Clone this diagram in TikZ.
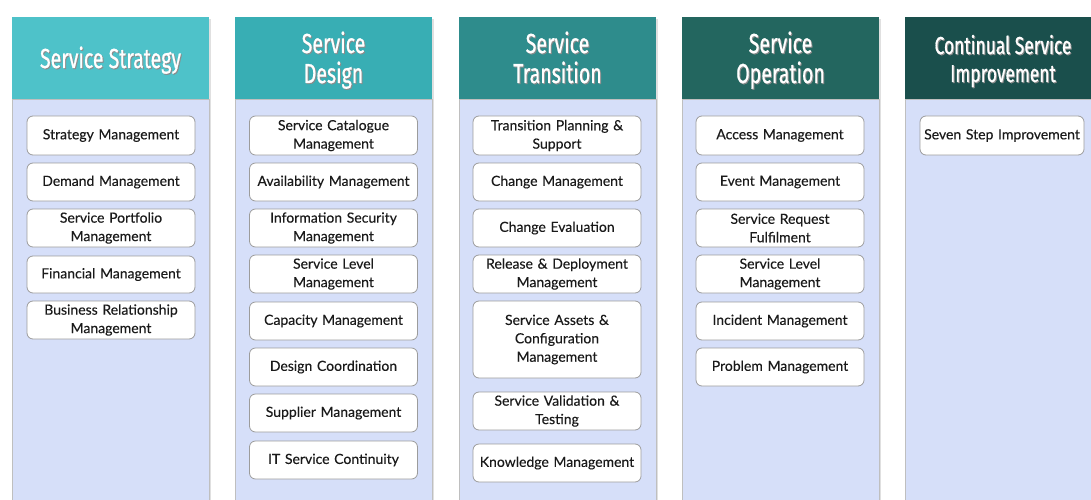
\documentclass[tikz,border=0pt]{standalone}
\usepackage{fontspec}
\setmainfont[FakeBold=0.25]{Lato}
\newfontfamily\hfont[FakeBold=0.9]{Fira Sans}
\definecolor{hA}{HTML}{4EC2C9}
\definecolor{hB}{HTML}{38AEB4}
\definecolor{hC}{HTML}{2E8C8C}
\definecolor{hD}{HTML}{23665F}
\definecolor{hE}{HTML}{1A4F4C}
\definecolor{bodyc}{HTML}{D6DFF9}
\definecolor{boxline}{HTML}{9C9C9C}
\definecolor{txt}{HTML}{1A1A1A}
\newcommand\hd[1]{\scalebox{0.71}[1]{#1}}
\tikzset{
  colbody/.style={fill=bodyc, draw=black!25, line width=0.8pt},
  item/.style={draw=boxline, fill=white, rounded corners=6pt, line width=0.8pt,
     minimum width=168pt, text width=166pt, align=center, inner sep=1pt,
     font=\fontsize{14}{18.4}\selectfont, text=txt},
  hbase/.style={anchor=base, inner sep=0pt, font=\hfont\fontsize{27.5}{31}\selectfont},
  htext/.style={hbase, text=white},
  hshadow/.style={hbase, text=black!45},
  hsmall/.style={font=\hfont\fontsize{24.5}{29}\selectfont},
}
\begin{document}
\begin{tikzpicture}[x=1pt,y=-1pt]
\useasboundingbox (0,0) rectangle (1091,500);
\fill[white] (0,0) rectangle (1091,500);
\begin{scope}
\clip (0,0) rectangle (1091,500);
\foreach \x/\c in {12/hA,235/hB,459/hC,682/hD,905/hE}{
  \fill[black!12] (\x+2,19) rectangle (\x+199,510);
  \draw[colbody] (\x,99) rectangle (\x+197,510);
  \fill[\c] (\x,17) rectangle (\x+197,99);
}
\end{scope}
% headers
\node[hshadow] at (111.5,69) {\hd{Service Strategy}};
\node[htext] (h1) at (110.5,68) {\hd{Service Strategy}};
\node[hshadow] at (334.5,54) {\hd{Service}};
\node[htext] (h2a) at (333.5,53) {\hd{Service}};
\node[hshadow] at (334.5,84) {\hd{Design}};
\node[htext] (h2b) at (333.5,83) {\hd{Design}};
\node[hshadow] at (558.5,54) {\hd{Service}};
\node[htext] (h3a) at (557.5,53) {\hd{Service}};
\node[hshadow] at (558.5,84) {\hd{Transition}};
\node[htext] (h3b) at (557.5,83) {\hd{Transition}};
\node[hshadow] at (781.5,54) {\hd{Service}};
\node[htext] (h4a) at (780.5,53) {\hd{Service}};
\node[hshadow] at (781.5,84) {\hd{Operation}};
\node[htext] (h4b) at (780.5,83) {\hd{Operation}};
\node[hshadow, hsmall] at (1004,55) {\hd{Continual Service}};
\node[htext, hsmall] (h5a) at (1003,54) {\hd{Continual Service}};
\node[hshadow, hsmall] at (1004,83) {\hd{Improvement}};
\node[htext, hsmall] (h5b) at (1003,82) {\hd{Improvement}};
% column 1
\node[item, minimum height=39pt] (a1) at (111,135.5) {Strategy Management};
\node[item, minimum height=38pt] (a2) at (111,182) {Demand Management};
\node[item, minimum height=38pt] (a3) at (111,228) {Service Portfolio\\Management};
\node[item, minimum height=37pt] (a4) at (111,274.5) {Financial Management};
\node[item, minimum height=38pt] (a5) at (111,320) {Business Relationship\\Management};
% column 2
\node[item, minimum height=39pt] (b1) at (333.5,135.5) {Service Catalogue\\Management};
\node[item, minimum height=38pt] (b2) at (333.5,182) {Availability Management};
\node[item, minimum height=38pt] (b3) at (333.5,228) {Information Security\\Management};
\node[item, minimum height=38pt] (b4) at (333.5,274) {Service Level\\Management};
\node[item, minimum height=38pt] (b5) at (333.5,321) {Capacity Management};
\node[item, minimum height=38pt] (b6) at (333.5,367) {Design Coordination};
\node[item, minimum height=38pt] (b7) at (333.5,413) {Supplier Management};
\node[item, minimum height=38pt] (b8) at (333.5,460) {IT Service Continuity};
% column 3
\node[item, minimum height=39pt] (c1) at (557,135.5) {Transition Planning \&\\Support};
\node[item, minimum height=38pt] (c2) at (557,182) {Change Management};
\node[item, minimum height=38pt] (c3) at (557,228) {Change Evaluation};
\node[item, minimum height=38pt] (c4) at (557,274) {Release \& Deployment\\Management};
\node[item, minimum height=77pt] (c5) at (557,339.5) {Service Assets \&\\Configuration\\Management};
\node[item, minimum height=38pt] (c6) at (557,411) {Service Validation \&\\Testing};
\node[item, minimum height=38pt] (c7) at (557,463) {Knowledge Management};
% column 4
\node[item, minimum height=39pt] (d1) at (780,135.5) {Access Management};
\node[item, minimum height=38pt] (d2) at (780,182) {Event Management};
\node[item, minimum height=38pt] (d3) at (780,228) {Service Request\\Fulfilment};
\node[item, minimum height=38pt] (d4) at (780,274) {Service Level\\Management};
\node[item, minimum height=38pt] (d5) at (780,321) {Incident Management};
\node[item, minimum height=38pt] (d6) at (780,367) {Problem Management};
% column 5
\node[item, minimum height=39pt, minimum width=164pt, text width=162pt] (e1) at (1002,135.5) {Seven Step Improvement};
\end{tikzpicture}
\end{document}
